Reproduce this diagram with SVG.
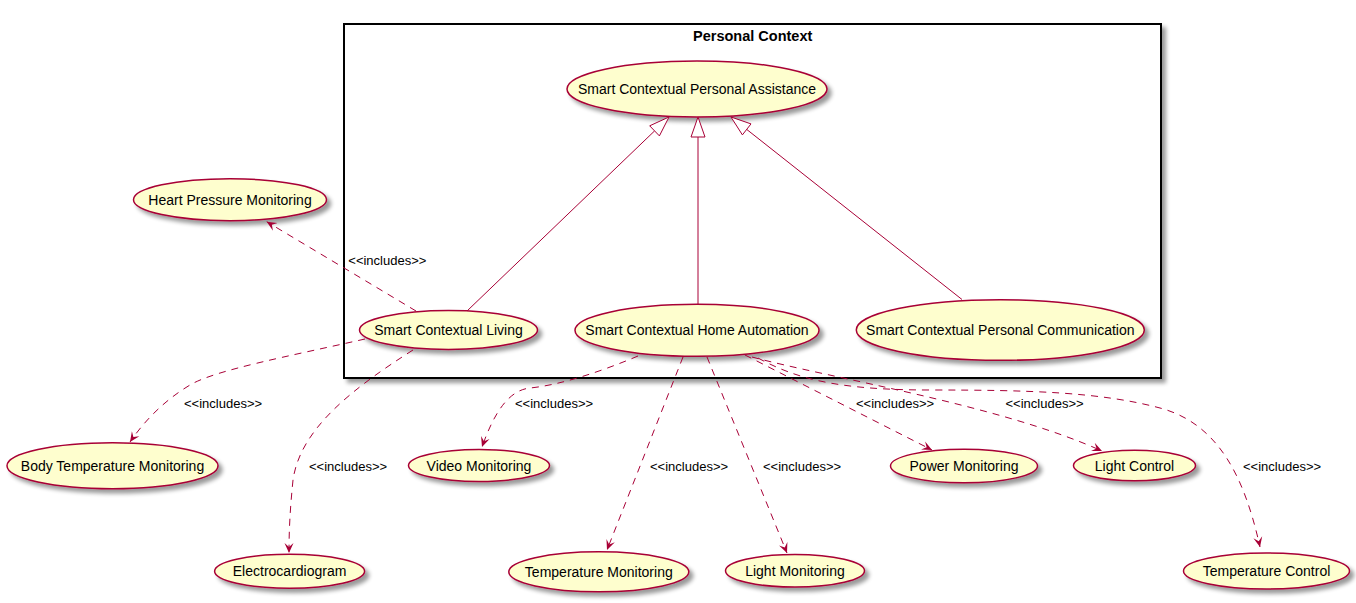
<svg xmlns="http://www.w3.org/2000/svg" width="1356" height="603" viewBox="0 0 1356 603">
<style>
.uc ellipse{fill:#FEFECE;stroke:#A80036;stroke-width:1.5;filter:url(#sh)}
.uc text{font-family:"Liberation Sans",Arial,sans-serif;font-size:14px;fill:#000;text-anchor:middle}
.lbl{font-family:"Liberation Sans",Arial,sans-serif;font-size:13px;fill:#000}
.inc{fill:none;stroke:#A80036;stroke-width:1;stroke-dasharray:7,6;marker-end:url(#arr)}
.gen{fill:none;stroke:#A80036;stroke-width:1}
.tri{fill:#FFFFFF;stroke:#A80036;stroke-width:1}
</style>
<defs>
<filter id="sh" x="-20%" y="-30%" width="150%" height="180%">
<feGaussianBlur in="SourceAlpha" stdDeviation="2" result="b"/>
<feOffset in="b" dx="4" dy="4" result="o"/>
<feComponentTransfer in="o" result="s"><feFuncA type="linear" slope="0.4"/></feComponentTransfer>
<feMerge><feMergeNode in="s"/><feMergeNode in="SourceGraphic"/></feMerge>
</filter>
<marker id="arr" viewBox="0 0 10 10" refX="10" refY="5" markerWidth="10" markerHeight="10" markerUnits="userSpaceOnUse" orient="auto">
<path d="M10,5 L0,0.5 L4,5 L0,9.5 Z" fill="#A80036"/>
</marker>
</defs>
<rect width="1356" height="603" fill="#FFFFFF"/>
<g id="frame">
<rect x="344" y="24" width="817" height="354" fill="#FFFFFF" stroke="#000000" stroke-width="2" filter="url(#sh)"/>
<text x="752.7" y="41" font-family="'Liberation Sans',Arial,sans-serif" font-size="14.5" font-weight="bold" text-anchor="middle">Personal Context</text>
</g>
<g id="SCPA" class="uc"><ellipse cx="697" cy="89" rx="130" ry="28"/><text x="697" y="94">Smart Contextual Personal Assistance</text></g>
<g id="SCL" class="uc"><ellipse cx="448.5" cy="330" rx="89" ry="19.5"/><text x="448.5" y="335">Smart Contextual Living</text></g>
<g id="SCHA" class="uc"><ellipse cx="697" cy="330.3" rx="122" ry="26"/><text x="697" y="335.3">Smart Contextual Home Automation</text></g>
<g id="SCPC" class="uc"><ellipse cx="1000.3" cy="330" rx="144" ry="30.3"/><text x="1000.3" y="335">Smart Contextual Personal Communication</text></g>
<g id="HPM" class="uc"><ellipse cx="230" cy="199.7" rx="96.5" ry="21"/><text x="230" y="204.7">Heart Pressure Monitoring</text></g>
<g id="BTM" class="uc"><ellipse cx="112.5" cy="465.7" rx="105.5" ry="23"/><text x="112.5" y="470.7">Body Temperature Monitoring</text></g>
<g id="ECG" class="uc"><ellipse cx="289.6" cy="571.2" rx="75" ry="17"/><text x="289.6" y="576.2">Electrocardiogram</text></g>
<g id="VM" class="uc"><ellipse cx="479" cy="465.5" rx="70.5" ry="16"/><text x="479" y="470.5">Video Monitoring</text></g>
<g id="TM" class="uc"><ellipse cx="598.8" cy="571.8" rx="90" ry="20"/><text x="598.8" y="576.8">Temperature Monitoring</text></g>
<g id="LM" class="uc"><ellipse cx="795" cy="570.8" rx="69.5" ry="16.3"/><text x="795" y="575.8">Light Monitoring</text></g>
<g id="PM" class="uc"><ellipse cx="964" cy="466" rx="73.5" ry="16.8"/><text x="964" y="471">Power Monitoring</text></g>
<g id="LC" class="uc"><ellipse cx="1134.5" cy="465.5" rx="61" ry="15.3"/><text x="1134.5" y="470.5">Light Control</text></g>
<g id="TC" class="uc"><ellipse cx="1266.5" cy="571" rx="83" ry="18"/><text x="1266.5" y="576">Temperature Control</text></g>
<g id="connectors">
<line class="gen" x1="654.6" y1="130.9" x2="467" y2="311"/>
<polygon class="tri" points="669,117 659.4,135.9 649.7,125.8"/>
<line class="gen" x1="698" y1="137" x2="698" y2="304"/>
<polygon class="tri" points="698,117 705,137 691,137"/>
<line class="gen" x1="746.7" y1="129.4" x2="962" y2="299.5"/>
<polygon class="tri" points="731,117 751,123.9 742.4,134.9"/>
<path class="inc" d="M416,311 L266.7,221.7"/>
<path class="inc" d="M365,339 C290,356 215,370 190,385 C165,400 145,420 130,442"/>
<path class="inc" d="M413,350 C350,390 300,430 293,480 C290,510 289,530 289,553"/>
<path class="inc" d="M638,356 C600,372 560,385 530,388 C510,390 495,410 482,447"/>
<path class="inc" d="M683,357 L607,550"/>
<path class="inc" d="M707,357 L787,553"/>
<path class="inc" d="M745,355 L932,450"/>
<path class="inc" d="M752,357 C830,378 1000,405 1102,451"/>
<path class="inc" d="M758,358 C795,378 835,390 930,390 C1030,390 1100,392 1160,408 C1220,424 1245,480 1260,547"/>
<text class="lbl" x="348.3" y="264.5">&lt;&lt;includes&gt;&gt;</text>
<text class="lbl" x="184" y="407.5">&lt;&lt;includes&gt;&gt;</text>
<text class="lbl" x="309" y="471">&lt;&lt;includes&gt;&gt;</text>
<text class="lbl" x="515" y="407.5">&lt;&lt;includes&gt;&gt;</text>
<text class="lbl" x="650" y="471">&lt;&lt;includes&gt;&gt;</text>
<text class="lbl" x="763" y="471">&lt;&lt;includes&gt;&gt;</text>
<text class="lbl" x="856" y="407.5">&lt;&lt;includes&gt;&gt;</text>
<text class="lbl" x="1005.5" y="407.5">&lt;&lt;includes&gt;&gt;</text>
<text class="lbl" x="1243" y="471">&lt;&lt;includes&gt;&gt;</text>
</g>
</svg>
